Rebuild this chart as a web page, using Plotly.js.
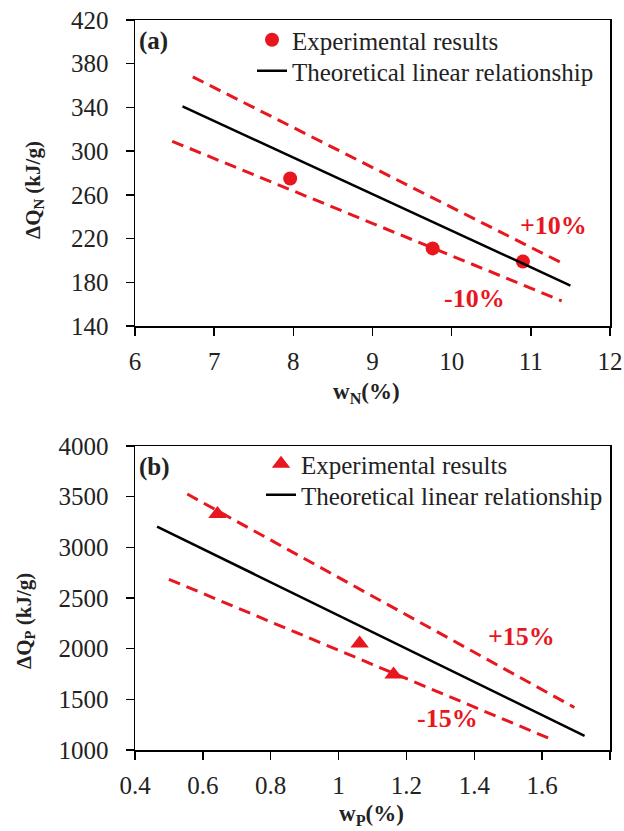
<!DOCTYPE html>
<html>
<head>
<meta charset="utf-8">
<script src="https://cdn.plot.ly/plotly-3.0.1.min.js"></script>
<style>html,body{margin:0;padding:0;background:#fff;}#chart{width:624px;height:831px;}</style>
</head>
<body>
<div id="chart"></div>
<script>
// Panel (a): nitrogen
const nExpX = [7.96, 9.76, 10.9];
const nExpY = [275, 211, 199];
const nTheoX = [6.6, 11.5];
const nTheoY = [341, 177];
const nUpX = [6.73, 11.41];
const nUpY = [368, 197];
const nLoX = [6.47, 11.39];
const nLoY = [309, 163];
const nTickVals = [140, 180, 220, 260, 300, 340, 380, 420];
const nXTickVals = [6, 7, 8, 9, 10, 11, 12];

// Panel (b): phosphorus
const pExpX = [0.643, 1.062, 1.162];
const pExpY = [3330, 2050, 1745];
const pTheoX = [0.465, 1.725];
const pTheoY = [3205, 1140];
const pUpX = [0.554, 1.695];
const pUpY = [3526, 1420];
const pLoX = [0.50, 1.635];
const pLoY = [2685, 1095];
const pTickVals = [1000, 1500, 2000, 2500, 3000, 3500, 4000];
const pXTickVals = [0.4, 0.6, 0.8, 1.0, 1.2, 1.4, 1.6, 1.8];
const pXTickText = ['0.4', '0.6', '0.8', '1', '1.2', '1.4', '1.6', '1.8'];

const RED = 'rgb(232,22,30)';
const FONT = 'Liberation Serif, Times New Roman, serif';
const dashStyle = {color: RED, width: 3, dash: '12px,7px'};

const traces = [
  {x: nUpX, y: nUpY, mode: 'lines', line: dashStyle, showlegend: false, xaxis: 'x', yaxis: 'y'},
  {x: nLoX, y: nLoY, mode: 'lines', line: dashStyle, showlegend: false, xaxis: 'x', yaxis: 'y'},
  {x: nExpX, y: nExpY, mode: 'markers', name: 'Experimental results',
   marker: {symbol: 'circle', size: 14, color: RED}, xaxis: 'x', yaxis: 'y', legend: 'legend'},
  {x: nTheoX, y: nTheoY, mode: 'lines', name: 'Theoretical linear relationship',
   line: {color: '#000', width: 2.5}, xaxis: 'x', yaxis: 'y', legend: 'legend2'},

  {x: pUpX, y: pUpY, mode: 'lines', line: dashStyle, showlegend: false, xaxis: 'x2', yaxis: 'y2'},
  {x: pLoX, y: pLoY, mode: 'lines', line: dashStyle, showlegend: false, xaxis: 'x2', yaxis: 'y2'},
  {x: pExpX, y: pExpY, mode: 'markers', name: 'Experimental results',
   marker: {symbol: 'triangle-up', size: 16, color: RED}, xaxis: 'x2', yaxis: 'y2', legend: 'legend3'},
  {x: pTheoX, y: pTheoY, mode: 'lines', name: 'Theoretical linear relationship',
   line: {color: '#000', width: 2.5}, xaxis: 'x2', yaxis: 'y2', legend: 'legend4'}
];

const axisCommon = {
  showgrid: false, zeroline: false, showline: true, linecolor: '#000', linewidth: 1.5,
  mirror: true, ticks: 'outside', ticklen: 8, tickwidth: 1.5, tickcolor: '#000',
  tickfont: {family: FONT, size: 25, color: '#222'}
};
const legFont = {family: FONT, size: 25, color: '#222'};
const legBase = {xanchor: 'left', yanchor: 'middle', bgcolor: 'rgba(0,0,0,0)', font: legFont};
const titleFont = {family: FONT, size: 23, color: '#222'};

function pxX(px) { return (px - 135) / 475; }
function pxY(py) { return (750 - py) / 730; }

const layout = {
  width: 624, height: 831,
  margin: {l: 135, r: 14, t: 20, b: 81},
  paper_bgcolor: '#fff', plot_bgcolor: '#fff',
  font: {family: FONT, color: '#222'},
  xaxis: Object.assign({}, axisCommon, {domain: [0, 1], anchor: 'y', range: [6, 12],
    tickvals: nXTickVals, ticklabelstandoff: 4}),
  yaxis: Object.assign({}, axisCommon, {domain: [0.5808, 1], anchor: 'x', range: [140, 420],
    tickvals: nTickVals, ticklabelstandoff: 12}),
  xaxis2: Object.assign({}, axisCommon, {domain: [0, 1], anchor: 'y2', range: [0.4, 1.8],
    tickvals: pXTickVals, ticktext: pXTickText, ticklabelstandoff: 4}),
  yaxis2: Object.assign({}, axisCommon, {domain: [0, 0.4164], anchor: 'x2', range: [1000, 4000],
    tickvals: pTickVals, ticklabelstandoff: 12}),
  legend: Object.assign({}, legBase, {x: pxX(252), y: pxY(40)}),
  legend2: Object.assign({}, legBase, {x: pxX(252), y: pxY(71)}),
  legend3: Object.assign({}, legBase, {x: pxX(261), y: pxY(464)}),
  legend4: Object.assign({}, legBase, {x: pxX(261), y: pxY(495)}),
  annotations: [
    {text: '<b>(a)</b>', xref: 'x domain', yref: 'y domain', x: 0.004, y: 0.985,
     xanchor: 'left', yanchor: 'top', showarrow: false, font: {family: FONT, size: 25, color: '#222'}},
    {text: '<b>(b)</b>', xref: 'x2 domain', yref: 'y2 domain', x: 0.004, y: 0.985,
     xanchor: 'left', yanchor: 'top', showarrow: false, font: {family: FONT, size: 25, color: '#222'}},
    {text: '<b>+10%</b>', xref: 'x', yref: 'y', x: 11.28, y: 232, showarrow: false,
     font: {family: FONT, size: 26, color: RED}},
    {text: '<b>-10%</b>', xref: 'x', yref: 'y', x: 10.29, y: 165, showarrow: false,
     font: {family: FONT, size: 26, color: RED}},
    {text: '<b>+15%</b>', xref: 'x2', yref: 'y2', x: 1.54, y: 2118, showarrow: false,
     font: {family: FONT, size: 26, color: RED}},
    {text: '<b>-15%</b>', xref: 'x2', yref: 'y2', x: 1.32, y: 1315, showarrow: false,
     font: {family: FONT, size: 26, color: RED}},
    // axis titles
    {text: '<b>w<sub>N</sub>(%)</b>', xref: 'paper', yref: 'paper', x: pxX(366), y: pxY(393),
     xanchor: 'center', yanchor: 'middle', showarrow: false, font: titleFont},
    {text: '<b>w<sub>P</sub>(%)</b>', xref: 'paper', yref: 'paper', x: pxX(371), y: pxY(815),
     xanchor: 'center', yanchor: 'middle', showarrow: false, font: titleFont},
    {text: '<b>ΔQ<sub>N</sub> (kJ/g)</b>', xref: 'paper', yref: 'paper', x: pxX(34), y: pxY(190),
     xanchor: 'center', yanchor: 'middle', textangle: -90, showarrow: false, font: {family: FONT, size: 21, color: '#222'}},
    {text: '<b>ΔQ<sub>P</sub> (kJ/g)</b>', xref: 'paper', yref: 'paper', x: pxX(25), y: pxY(621),
     xanchor: 'center', yanchor: 'middle', textangle: -90, showarrow: false, font: {family: FONT, size: 21, color: '#222'}}
  ]
};

Plotly.newPlot('chart', traces, layout, {displayModeBar: false, staticPlot: true});
</script>
</body>
</html>
